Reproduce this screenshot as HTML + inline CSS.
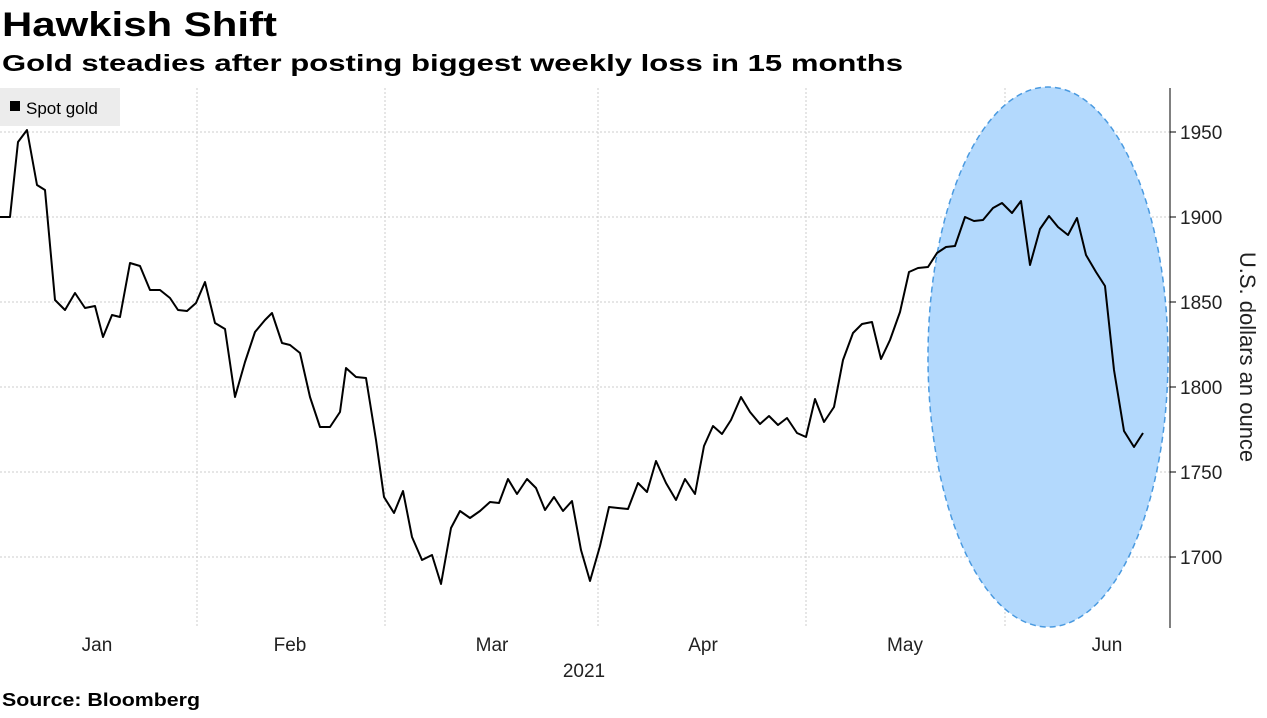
<!DOCTYPE html>
<html><head><meta charset="utf-8"><style>
body{margin:0;background:#fff;width:1267px;height:713px;overflow:hidden;font-family:"Liberation Sans",sans-serif}
</style></head><body>
<svg width="1267" height="713" xmlns="http://www.w3.org/2000/svg" font-family="Liberation Sans, sans-serif">
<text x="2" y="36" font-size="34" font-weight="bold" fill="#000" textLength="275" lengthAdjust="spacingAndGlyphs">Hawkish Shift</text>
<text x="2" y="71" font-size="23" font-weight="bold" fill="#000" textLength="901" lengthAdjust="spacingAndGlyphs">Gold steadies after posting biggest weekly loss in 15 months</text>
<g stroke="#ccc" stroke-dasharray="2,2" stroke-width="1">
<line x1="0" y1="132" x2="1170" y2="132"/><line x1="0" y1="217" x2="1170" y2="217"/>
<line x1="0" y1="302" x2="1170" y2="302"/><line x1="0" y1="387" x2="1170" y2="387"/>
<line x1="0" y1="472" x2="1170" y2="472"/><line x1="0" y1="557" x2="1170" y2="557"/>
<line x1="197" y1="88" x2="197" y2="628"/><line x1="385" y1="88" x2="385" y2="628"/>
<line x1="598" y1="88" x2="598" y2="628"/><line x1="806" y1="88" x2="806" y2="628"/>
<line x1="1005" y1="88" x2="1005" y2="628"/>
</g>
<ellipse cx="1048" cy="357" rx="120" ry="270" fill="#b3d9fd" stroke="#4a9ae0" stroke-width="1.5" stroke-dasharray="6,4"/>
<rect x="0" y="88" width="120" height="38" fill="#ececec"/>
<rect x="10" y="101" width="10" height="10" fill="#000"/>
<text x="26" y="114" font-size="17" fill="#000">Spot gold</text>
<polyline fill="none" stroke="#000" stroke-width="2" stroke-linejoin="round" points="0,217 10,217 18,142 27,130 37,185 45,190 55,300 65,310 75,293 85,308 95,306 103,337 112,315 120,317 130,263 140,266 150,290 160,290 170,298 178,310 187,311 196,303 205,282 215,323 225,329 235,397 245,362 255,332 265,320 272,313 282,343 290,345 300,353 310,397 320,427 330,427 340,412 346,368 356,377 366,378 376,440 384,497 394,513 403,491 412,537 422,560 432,555 441,584 451,528 460,511 470,518 480,511 490,502 499,503 508,479 517,494 527,479 536,488 545,510 554,497 563,511 572,501 581,550 590,581 600,546 609,507 618,508 628,509 638,483 647,492 656,461 666,483 676,500 685,479 695,494 704,446 713,426 722,434 731,420 741,397 750,412 760,424 769,416 778,425 787,418 797,433 806,437 815,399 824,422 834,407 843,360 853,333 862,324 872,322 881,359 890,340 900,312 909,272 918,268 928,267 937,253 946,247 955,246 965,217 974,221 983,220 993,208 1002,203 1012,213 1021,201 1030,265 1040,229 1049,216 1058,227 1068,235 1077,218 1086,255 1096,272 1105,286 1114,370 1124,431 1134,447 1143,433"/>
<line x1="1170" y1="88" x2="1170" y2="628" stroke="#000" stroke-width="1"/>
<g stroke="#000"><line x1="1170" y1="132" x2="1176" y2="132"/><line x1="1170" y1="217" x2="1176" y2="217"/><line x1="1170" y1="302" x2="1176" y2="302"/><line x1="1170" y1="387" x2="1176" y2="387"/><line x1="1170" y1="472" x2="1176" y2="472"/><line x1="1170" y1="557" x2="1176" y2="557"/></g>
<g font-size="19" fill="#222">
<text x="1180" y="139">1950</text><text x="1180" y="224">1900</text><text x="1180" y="309">1850</text><text x="1180" y="394">1800</text><text x="1180" y="479">1750</text><text x="1180" y="564">1700</text>
</g>
<text transform="translate(1240,357) rotate(90)" text-anchor="middle" font-size="22" fill="#222">U.S. dollars an ounce</text>
<g font-size="19" fill="#222" text-anchor="middle">
<text x="97" y="651">Jan</text><text x="290" y="651">Feb</text><text x="492" y="651">Mar</text><text x="703" y="651">Apr</text><text x="905" y="651">May</text><text x="1107" y="651">Jun</text>
<text x="584" y="677">2021</text>
</g>
<text x="2" y="706" font-size="18" font-weight="bold" fill="#000" textLength="198" lengthAdjust="spacingAndGlyphs">Source: Bloomberg</text>
</svg>
</body></html>
